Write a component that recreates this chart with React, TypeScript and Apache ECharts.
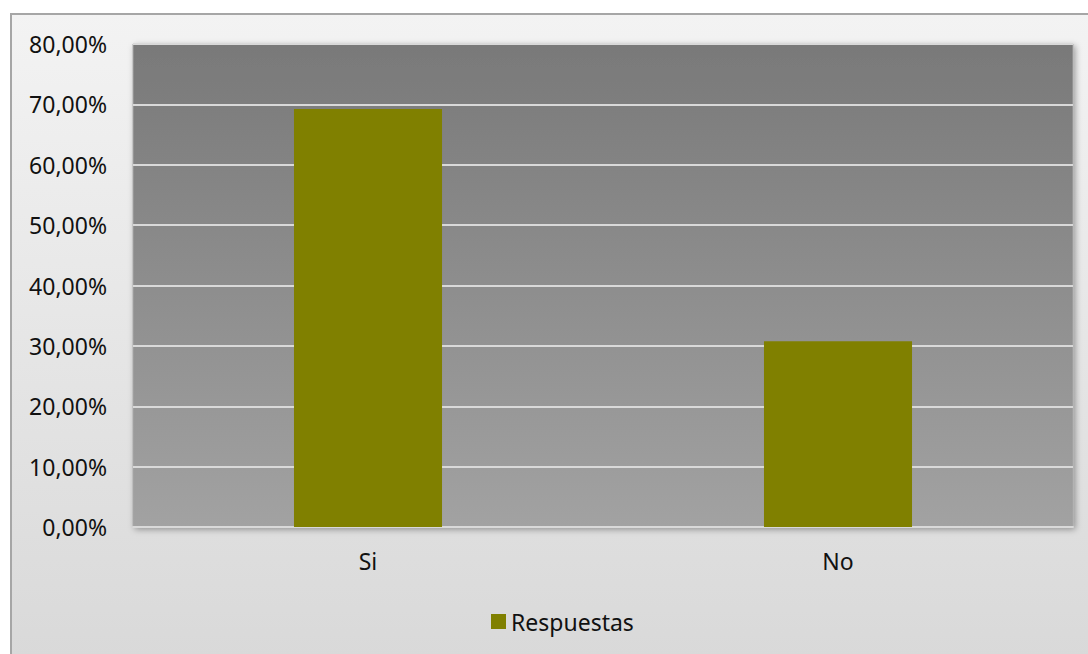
import React, { useEffect, useRef } from "react";
import * as echarts from "echarts";

const categories = ["Si", "No"];
const seriesName = "Respuestas";
const values = [69.23, 30.77];
const yTicks = { min: 0, max: 80, interval: 10 };

export default function App() {
  const ref = useRef<HTMLDivElement>(null);
  useEffect(() => {
    if (!ref.current) return;
    const chart = echarts.init(ref.current, null, { renderer: "svg" });
    const font = "'Noto Sans', 'Open Sans', sans-serif";
    chart.setOption({
      animation: false,
      backgroundColor: "#ffffff",
      graphic: [
        {
          type: "rect",
          z: -10,
          silent: true,
          shape: { x: 11, y: 14, width: 1100, height: 700 },
          style: {
            fill: new echarts.graphic.LinearGradient(0, 0, 0, 1, [
              { offset: 0, color: "#f3f3f3" },
              { offset: 0.92, color: "#d9d9d9" },
              { offset: 1, color: "#d6d6d6" },
            ]),
            stroke: "#a6a6a6",
            lineWidth: 2,
          },
        },
      ],
      grid: {
        left: 133,
        top: 44,
        right: 15,
        bottom: 127,
        show: true,
        backgroundColor: new echarts.graphic.LinearGradient(0, 0, 0, 1, [
          { offset: 0, color: "#797979" },
          { offset: 1, color: "#a2a2a2" },
        ]),
        borderColor: "#a8a8a8",
        borderWidth: 1,
        shadowBlur: 6,
        shadowColor: "rgba(0,0,0,0.35)",
        shadowOffsetX: 2,
        shadowOffsetY: 2,
      },
      legend: {
        data: [seriesName],
        left: 491,
        top: 610,
        padding: 0,
        itemWidth: 15,
        itemHeight: 15,
        itemGap: 10,
        icon: "rect",
        textStyle: { fontFamily: font, fontSize: 23, color: "#111111", lineHeight: 15 },
      },
      xAxis: {
        type: "category",
        data: categories,
        axisLine: { show: true, lineStyle: { color: "#d9d9d9", width: 2 } },
        axisTick: { show: false },
        axisLabel: { fontFamily: font, fontSize: 23, color: "#111111", margin: 22 },
      },
      yAxis: {
        type: "value",
        min: yTicks.min,
        max: yTicks.max,
        interval: yTicks.interval,
        axisLine: { show: false },
        axisTick: { show: false },
        splitLine: { lineStyle: { color: "#d9d9d9", width: 2 } },
        axisLabel: {
          fontFamily: font,
          fontSize: 23,
          color: "#111111",
          margin: 26,
          formatter: (v: number) => v.toFixed(2).replace(".", ",") + "%",
        },
      },
      series: [
        {
          name: seriesName,
          type: "bar",
          data: values,
          barWidth: "31.5%",
          itemStyle: { color: "#808000" },
        },
      ],
    });
    return () => chart.dispose();
  }, []);
  return (
    <div
      ref={ref}
      style={{ position: "absolute", left: 0, top: 0, width: 1088, height: 654 }}
    />
  );
}
